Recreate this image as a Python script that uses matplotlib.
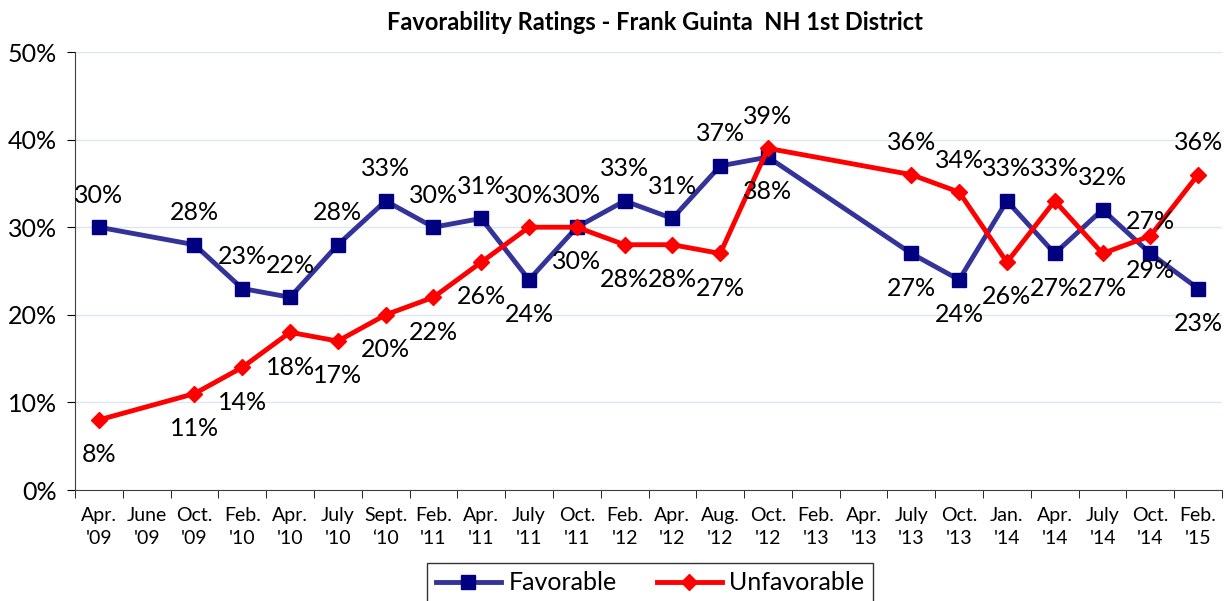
import numpy as np
import matplotlib
matplotlib.use("Agg")
import matplotlib.pyplot as plt

plt.rcParams['font.family'] = ['Lato', 'DejaVu Sans']

# survey dates (two-line tick labels)
dates = ["Apr.\n'09", "June\n'09", "Oct.\n'09", "Feb.\n'10", "Apr.\n'10", "July\n'10",
         "Sept.\n\u201810", "Feb.\n'11", "Apr.\n'11", "July\n'11", "Oct.\n'11", "Feb.\n'12",
         "Apr.\n'12", "Aug.\n'12", "Oct.\n'12", "Feb.\n'13", "Apr.\n'13", "July\n'13",
         "Oct.\n'13", "Jan.\n'14", "Apr.\n'14", "July\n'14", "Oct.\n'14", "Feb.\n'15"]

favorable = [30, None, 28, 23, 22, 28, 33, 30, 31, 24, 30, 33,
             31, 37, 38, None, None, 27, 24, 33, 27, 32, 27, 23]
unfavorable = [8, None, 11, 14, 18, 17, 20, 22, 26, 30, 30, 28,
               28, 27, 39, None, None, 36, 34, 26, 33, 27, 29, 36]

# where each data label sits: 1 = above point, -1 = below
fav_pos = [1, 0, 1, 1, 1, 1, 1, 1, 1, -1, 1, 1,
           1, 1, -1, 0, 0, -1, -1, 1, -1, 1, 1, -1]
unf_pos = [-1, 0, -1, -1, -1, -1, -1, -1, -1, 1, -1, -1,
           -1, -1, 1, 0, 0, 1, 1, -1, 1, -1, -1, 1]

fig = plt.figure(figsize=(12.31, 6.01), dpi=100)
ax = fig.add_axes([75 / 1231, 111 / 601, 1147 / 1231, 438 / 601])


def draw(vals, pos, line_c, mark_c, marker, ms, label):
    xs = [i for i, v in enumerate(vals) if v is not None]
    ys = [vals[i] for i in xs]
    ax.plot(xs, ys, color=line_c, lw=3.5, marker=marker, ms=ms,
            mfc=mark_c, mec=mark_c, label=label, zorder=3)
    for i, y in zip(xs, ys):
        off = 23 if pos[i] > 0 else -25
        ax.annotate(f"{y}%", (i, y), xytext=(0, off), textcoords="offset points",
                    ha="center", va="center", fontsize=18, color="black", zorder=4)


draw(favorable, fav_pos, "#333399", "#000080", "s", 10, "Favorable")
draw(unfavorable, unf_pos, "#FF0000", "#FF0000", "D", 8, "Unfavorable")

ax.set_xlim(-0.5, len(dates) - 0.5)
ax.set_ylim(0, 50)
ax.set_yticks(range(0, 51, 10))
ax.set_yticklabels([f"{v}%" for v in range(0, 51, 10)], fontsize=18)
ax.set_xticks(range(len(dates)))
ax.set_xticklabels(dates, fontsize=14, linespacing=1.45)
ax.tick_params(axis='x', which='major', length=0, pad=12)
ax.set_xticks(np.arange(-0.5, len(dates), 1), minor=True)
ax.tick_params(axis='x', which='minor', length=6, direction='out')
ax.tick_params(axis='y', length=6, direction='out', pad=7)

ax.grid(axis='y', color="#DCE6F2", lw=1)
ax.set_axisbelow(True)
for s in ["top", "right"]:
    ax.spines[s].set_visible(False)
ax.spines["left"].set_color("#404040")
ax.spines["bottom"].set_color("#404040")

fig.text(0.532, 0.962, "Favorability Ratings - Frank Guinta  NH 1st District",
         ha="center", va="center", fontsize=17, fontweight="bold")

leg = fig.legend(loc="center", bbox_to_anchor=(650 / 1231, 18 / 601), ncol=2,
                 fontsize=18, frameon=True, fancybox=False, edgecolor="black",
                 handlelength=2.6, handletextpad=0.3, columnspacing=1.6, borderpad=0.35)
leg.get_frame().set_linewidth(1)

fig.savefig("out.png", dpi=100)
